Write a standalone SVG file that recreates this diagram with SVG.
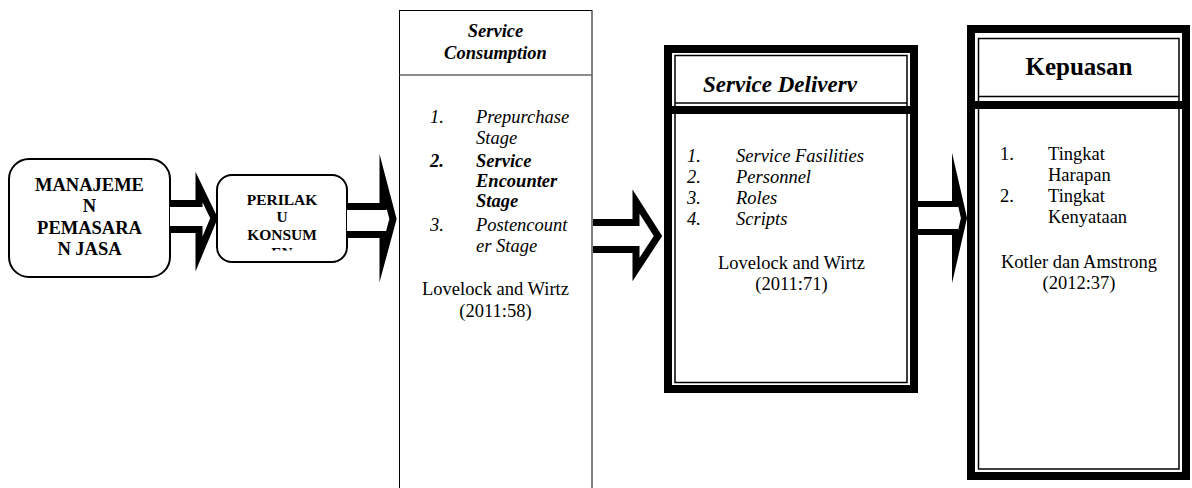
<svg xmlns="http://www.w3.org/2000/svg" width="1192" height="488" viewBox="0 0 1192 488">
  <defs>
    <style>
      .t { font-family: "Liberation Serif", "Times New Roman", serif; font-size: 18.5px; fill: #000; }
      .b { font-weight: bold; }
      .i { font-style: italic; }
      .mid { text-anchor: middle; }
      .rnd { fill: #fff; stroke: #000; stroke-width: 2; }
      .plain { fill: #fff; stroke: #000; stroke-width: 1; }
      .thick { fill: #fff; stroke: #000; stroke-width: 8; }
      .thin { fill: none; stroke: #000; stroke-width: 1.5; }
      .arrow { fill: #fff; stroke: #000; stroke-width: 7; stroke-linejoin: miter; stroke-miterlimit: 10; }
    </style>
    <clipPath id="clip-perilaku">
      <rect x="217" y="175" width="130" height="75.5"/>
    </clipPath>
  </defs>

  <rect width="1192" height="488" fill="#fff"/>

  <!-- Manajemen Pemasaran Jasa -->
  <g id="node-manajemen">
    <rect class="rnd" x="9" y="159" width="161" height="118" rx="20" ry="20"/>
    <text class="t b mid" x="89.5" y="191">MANAJEME</text>
    <text class="t b mid" x="89.5" y="212">N</text>
    <text class="t b mid" x="89.5" y="234">PEMASARA</text>
    <text class="t b mid" x="89.5" y="255">N JASA</text>
  </g>

  <!-- Perilaku Konsumen -->
  <g id="node-perilaku">
    <rect class="rnd" x="217" y="175" width="130" height="87" rx="15" ry="15"/>
    <g clip-path="url(#clip-perilaku)" style="font-size:15.5px">
      <text class="t b mid" x="282" y="205" style="font-size:15.5px">PERILAK</text>
      <text class="t b mid" x="282" y="222" style="font-size:15.5px">U</text>
      <text class="t b mid" x="282" y="240" style="font-size:15.5px">KONSUM</text>
      <text class="t b mid" x="282" y="257.5" style="font-size:15.5px">EN</text>
    </g>
  </g>

  <!-- Service Consumption -->
  <g id="node-consumption">
    <rect class="plain" x="399.5" y="10.5" width="192.5" height="490"/>
    <line x1="399.5" y1="75" x2="592" y2="75" stroke="#666" stroke-width="1.5"/>
    <text class="t b i mid" x="495.5" y="37">Service</text>
    <text class="t b i mid" x="495.5" y="59">Consumption</text>
    <text class="t i" x="430" y="123">1.</text>
    <text class="t i" x="476" y="123">Prepurchase</text>
    <text class="t i" x="476" y="144">Stage</text>
    <text class="t b i" x="430" y="167">2.</text>
    <text class="t b i" x="476" y="167">Service</text>
    <text class="t b i" x="476" y="187">Encounter</text>
    <text class="t b i" x="476" y="207">Stage</text>
    <text class="t i" x="430" y="231">3.</text>
    <text class="t i" x="476" y="231">Postencount</text>
    <text class="t i" x="476" y="252">er Stage</text>
    <text class="t mid" x="495.5" y="295">Lovelock and Wirtz</text>
    <text class="t mid" x="495.5" y="317">(2011:58)</text>
  </g>

  <!-- Service Delivery -->
  <g id="node-delivery">
    <rect class="thick" x="668" y="49" width="246" height="340"/>
    <rect class="thin" x="675" y="55.5" width="232" height="327"/>
    <line class="thin" x1="675" y1="103" x2="907" y2="103"/>
    <rect x="668" y="106" width="246" height="8" fill="#000"/>
    <text class="t b i" x="703" y="92" style="font-size:23px">Service Deliverv</text>
    <text class="t i" x="687" y="162">1.</text>
    <text class="t i" x="736" y="162">Service Fasilities</text>
    <text class="t i" x="687" y="183">2.</text>
    <text class="t i" x="736" y="183">Personnel</text>
    <text class="t i" x="687" y="204">3.</text>
    <text class="t i" x="736" y="204">Roles</text>
    <text class="t i" x="687" y="225">4.</text>
    <text class="t i" x="736" y="225">Scripts</text>
    <text class="t mid" x="791.5" y="269">Lovelock and Wirtz</text>
    <text class="t mid" x="791.5" y="290">(2011:71)</text>
  </g>

  <!-- Kepuasan -->
  <g id="node-kepuasan">
    <rect class="thick" x="971" y="29" width="215" height="447"/>
    <rect class="thin" x="978.5" y="38.5" width="200.5" height="430.5"/>
    <line class="thin" x1="978.5" y1="96.5" x2="1179" y2="96.5"/>
    <rect x="971" y="101" width="215" height="8" fill="#000"/>
    <text class="t b mid" x="1079" y="75" style="font-size:25px">Kepuasan</text>
    <text class="t" x="1000" y="160">1.</text>
    <text class="t" x="1048" y="160">Tingkat</text>
    <text class="t" x="1048" y="181">Harapan</text>
    <text class="t" x="1000" y="202">2.</text>
    <text class="t" x="1048" y="202">Tingkat</text>
    <text class="t" x="1048" y="223">Kenyataan</text>
    <text class="t mid" x="1079" y="268">Kotler dan Amstrong</text>
    <text class="t mid" x="1079" y="289">(2012:37)</text>
  </g>

  <!-- block arrows between the stages -->
  <g id="connectors">
    <path class="arrow" d="M170,203.5 L199,203.5 L199,187 L214,218 L199,254 L199,229.5 L170,229.5"/>
    <path class="arrow" d="M347,206.5 L383,206.5 L383,181 L393,219 L383,256 L383,234.5 L347,234.5"/>
    <path class="arrow" d="M593,222.5 L636,222.5 L636,201.5 L658,236 L636,269.5 L636,249.5 L593,249.5"/>
    <path class="arrow" style="stroke-width:6" d="M918,204 L955,204 L955,179 L964,218 L955,257 L955,232 L918,232"/>
  </g>
</svg>
